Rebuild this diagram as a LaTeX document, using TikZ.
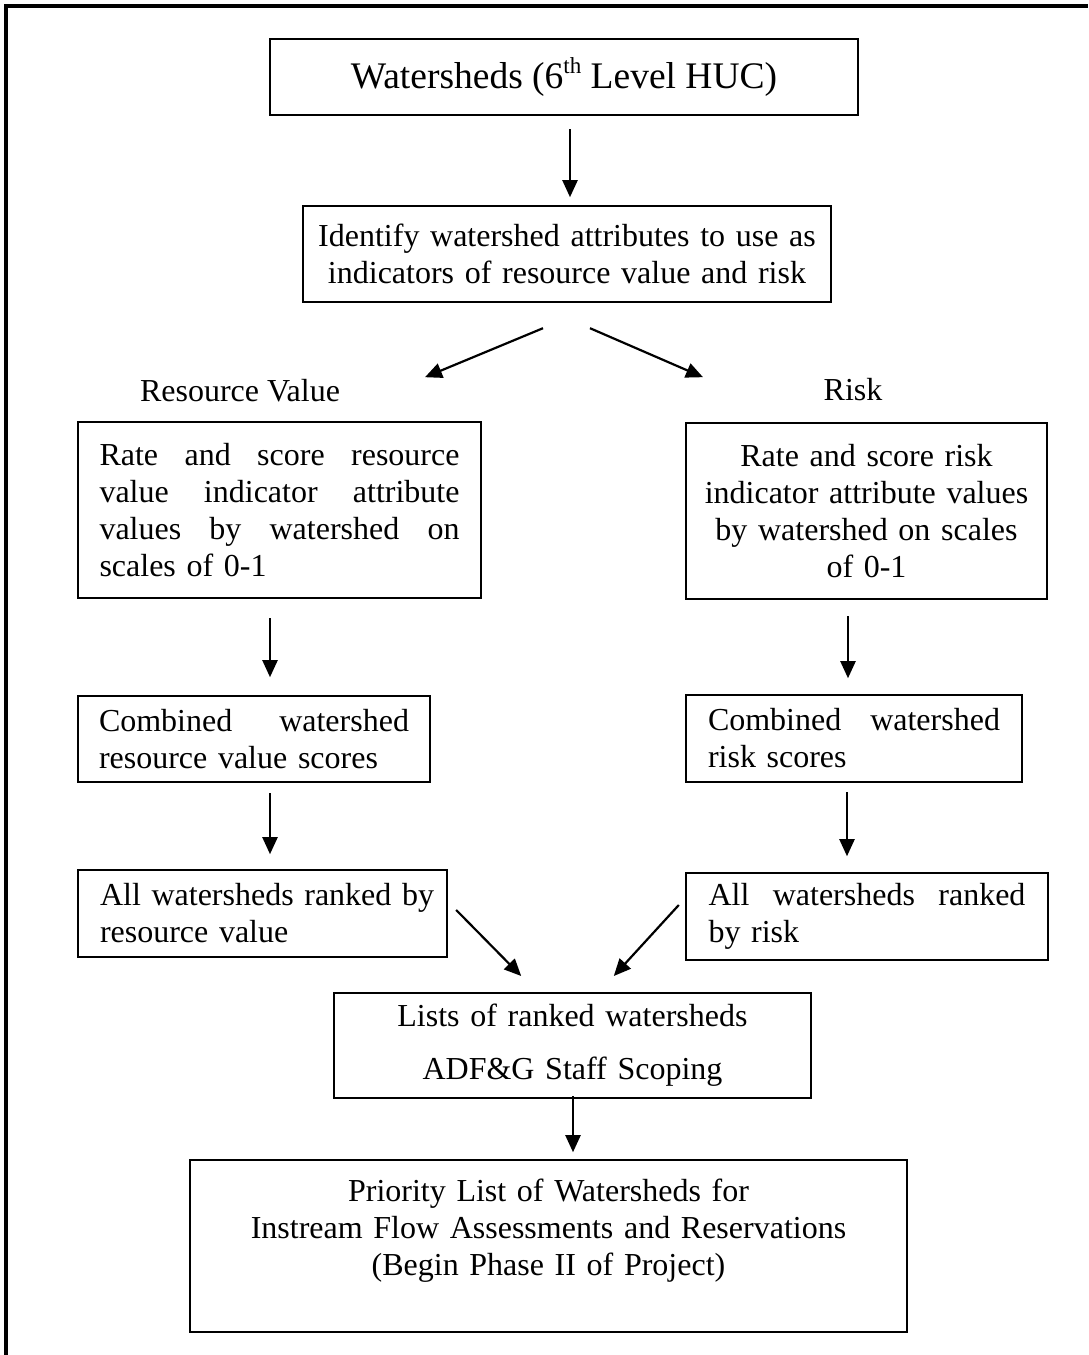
\documentclass[tikz,border=0pt]{standalone}
\usepackage{fontspec}
\setmainfont{Liberation Serif}
\usetikzlibrary{arrows.meta}

\begin{document}
\begin{tikzpicture}[x=1pt,y=-1pt,
		box/.style={draw, line width=2.4pt, inner sep=0pt, font=\fontsize{32}{37}\selectfont},
		lbl/.style={inner sep=0pt, font=\fontsize{32}{37}\selectfont},
		arr/.style={line width=2.2pt, -{Triangle[length=17pt,width=15pt]}}]
	\useasboundingbox (0,0) rectangle (1088,1355);
	\draw[line width=3.5pt] (6,1355) -- (6,6) -- (1088,6); % Frame.
	
	\node[box, minimum width=588pt, minimum height=76pt, font=\fontsize{37.5}{43}\selectfont] (huc) at (564,77) {Watersheds (6\raisebox{0.42em}{\fontsize{23}{23}\selectfont th} Level HUC)};
	\node[box, minimum width=528pt, minimum height=96pt, text width=500pt, align=center] (ident) at (567,254) {Identify watershed attributes to use as\\ indicators of resource value and risk};
	
	\node[lbl] (rvlab) at (240,391) {Resource Value};
	\node[lbl] (rklab) at (853,390) {Risk};
	
	% Resource value column.
	\node[box, minimum width=403pt, minimum height=176pt, text width=360pt, align=left] (rvrate) at (279.5,510) {Rate\hfill and\hfill score\hfill resource\\ value\hfill indicator\hfill attribute\\ values\hfill by\hfill watershed\hfill on\\ scales of 0-1};
	\node[box, minimum width=352pt, minimum height=86pt, text width=310pt, align=left] (rvcomb) at (254,739) {Combined\hfill watershed\\ resource value scores};
	\node[box, minimum width=369pt, minimum height=87pt, text width=325pt, align=left] (rvrank) at (262.5,913.5) {\mbox{All watersheds ranked by}\\ resource value};
	
	% Risk column.
	\node[box, minimum width=361pt, minimum height=176pt, text width=340pt, align=center] (rkrate) at (866.5,511) {Rate and score risk\\ indicator attribute values\\ by watershed on scales\\ of 0-1};
	\node[box, minimum width=336pt, minimum height=87pt, text width=292pt, align=left] (rkcomb) at (854,738.5) {Combined\hfill watershed\\ risk scores};
	\node[box, minimum width=362pt, minimum height=87pt, text width=317pt, align=left] (rkrank) at (867,916.5) {All\hfill watersheds\hfill ranked\\ by risk};
	
	\node[box, minimum width=477pt, minimum height=105pt, text width=460pt, align=center] (lists) at (572.5,1045.5) {Lists of ranked watersheds\\[16pt] ADF\&G Staff Scoping};
	\node[box, minimum width=717pt, minimum height=172pt, text width=700pt, align=center] (prio) at (548.5,1246) {Priority List of Watersheds for\\ Instream Flow Assessments and Reservations\\ (Begin Phase II of Project)\\ \mbox{}};
	
	\draw[arr] (huc.south) ++(6,13) -- ++(0,68);
	\draw[arr] (ident.south) ++(-24,25) -- ++(-118,49); % To resource value.
	\draw[arr] (ident.south) ++(23,25) -- ++(113,49); % To risk.
	\draw[arr] (rvrate.south) ++(-9.5,19) -- ++(0,59);
	\draw[arr] (rkrate.south) ++(-18.5,16) -- ++(0,62);
	\draw[arr] (rvcomb.south) ++(16,10) -- ++(0,61);
	\draw[arr] (rkcomb.south) ++(-7,9) -- ++(0,64);
	\draw[arr] (rvrank.east) ++(8,-3.5) -- ++(65,66);
	\draw[arr] (rkrank.west) ++(-6,-11.5) -- ++(-65,71);
	\draw[arr] (lists.south) ++(0.5,-3) -- ++(0,56);
\end{tikzpicture}
\end{document}
